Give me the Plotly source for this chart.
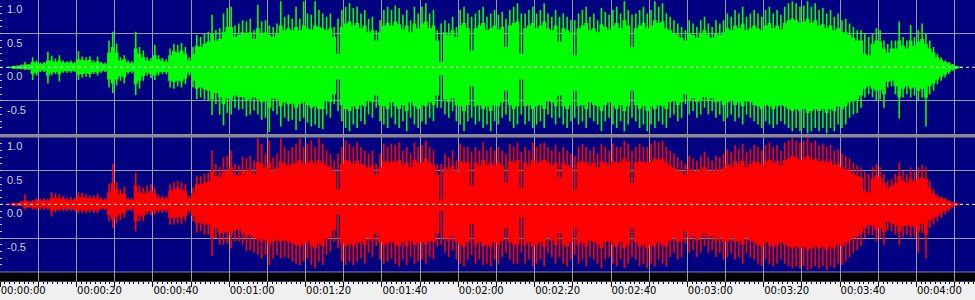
import plotly.graph_objects as go

# ---------------- data (amplitude per 1-second bin) ----------------
seconds = list(range(0, 256))

# peak values (thin spikes)
green_hi = [
    0, 0, 0.01, 0.02, 0.03, 0.04, 0.08, 0.05, 0.15, 0.10,
    0.07, 0.08, 0.23, 0.17, 0.13, 0.18, 0.10, 0.09, 0.10, 0.08,
    0.24, 0.16, 0.15, 0.16, 0.10, 0.16, 0.08, 0.07, 0.40, 0.53,
    0.35, 0.15, 0.18, 0.10, 0.09, 0.53, 0.30, 0.25, 0.15, 0.14,
    0.33, 0.18, 0.14, 0.12, 0.28, 0.35, 0.33, 0.36, 0.30, 0.15,
    0.30, 0.48, 0.45, 0.50, 0.53, 0.78, 0.55, 0.58, 0.80, 0.88,
    0.90, 0.62, 0.65, 0.70, 0.68, 0.72, 0.55, 0.93, 0.68, 0.70,
    0.62, 0.60, 0.65, 0.98, 0.75, 0.78, 0.72, 0.90, 0.72, 0.98,
    0.80, 0.78, 0.98, 0.85, 0.80, 0.75, 0.80, 0.60, 0.72, 0.85,
    0.90, 0.95, 0.88, 0.90, 0.80, 0.85, 0.72, 0.75, 0.55, 0.70,
    0.85, 0.90, 0.85, 0.92, 0.88, 0.78, 0.85, 0.70, 0.90, 0.80,
    0.90, 0.95, 0.80, 0.85, 0.55, 0.65, 0.70, 0.65, 0.75, 0.60,
    0.85, 0.90, 0.80, 0.75, 0.80, 0.85, 0.90, 0.75, 0.80, 0.85,
    0.78, 0.82, 0.72, 0.85, 0.90, 0.95, 0.80, 0.80, 0.85, 0.90,
    0.80, 0.85, 0.95, 0.80, 0.75, 0.85, 0.75, 0.80, 0.75, 0.70,
    0.70, 0.80, 0.85, 0.90, 0.75, 0.80, 0.70, 0.88, 0.82, 0.78,
    0.85, 0.90, 0.80, 0.98, 0.85, 0.78, 0.80, 0.85, 0.90, 0.80,
    0.85, 0.98, 0.90, 0.95, 0.80, 0.75, 0.70, 0.65, 0.60, 0.55,
    0.70, 0.65, 0.60, 0.70, 0.75, 0.65, 0.60, 0.70, 0.65, 0.70,
    0.80, 0.75, 0.85, 0.80, 0.90, 0.75, 0.80, 0.85, 0.80, 0.75,
    0.85, 0.90, 0.80, 0.85, 0.78, 0.90, 0.95, 0.98, 0.95, 0.90,
    0.92, 0.98, 0.90, 0.95, 0.85, 0.88, 0.80, 0.85, 0.75, 0.80,
    0.70, 0.72, 0.65, 0.60, 0.55, 0.55, 0.50, 0.45, 0.50, 0.58,
    0.55, 0.40, 0.35, 0.40, 0.40, 0.68, 0.45, 0.40, 0.63, 0.45,
    0.55, 0.65, 0.50, 0.40, 0.30, 0.20, 0.15, 0.10, 0.08, 0.05,
    0.02, 0.01, 0, 0, 0, 0,
]
green_lo = [
    0, 0, -0.01, -0.02, -0.03, -0.03, -0.04, -0.04, -0.19, -0.12,
    -0.07, -0.07, -0.24, -0.12, -0.10, -0.21, -0.08, -0.08, -0.08, -0.07,
    -0.19, -0.15, -0.14, -0.15, -0.10, -0.12, -0.08, -0.07, -0.30, -0.38,
    -0.27, -0.20, -0.24, -0.10, -0.09, -0.41, -0.32, -0.20, -0.12, -0.16,
    -0.19, -0.12, -0.10, -0.10, -0.30, -0.32, -0.28, -0.30, -0.25, -0.12,
    -0.30, -0.47, -0.45, -0.48, -0.50, -0.71, -0.55, -0.70, -0.86, -0.68,
    -0.70, -0.60, -0.63, -0.62, -0.73, -0.70, -0.64, -0.70, -0.78, -0.75,
    -0.96, -0.65, -0.70, -0.88, -0.75, -0.80, -0.78, -0.93, -0.80, -0.75,
    -0.82, -0.88, -0.85, -0.90, -0.92, -0.70, -0.75, -0.55, -0.65, -0.80,
    -0.90, -0.95, -0.85, -0.90, -0.80, -0.85, -0.70, -0.75, -0.60, -0.80,
    -0.85, -0.90, -0.75, -0.85, -0.90, -0.80, -0.95, -0.75, -0.85, -0.90,
    -0.80, -0.85, -0.75, -0.80, -0.60, -0.60, -0.70, -0.75, -0.65, -0.80,
    -0.85, -0.95, -0.80, -0.75, -0.85, -0.80, -0.90, -0.85, -0.95, -0.80,
    -0.85, -0.75, -0.70, -0.80, -0.90, -0.85, -0.70, -0.85, -0.80, -0.90,
    -0.85, -0.80, -0.90, -0.70, -0.75, -0.85, -0.75, -0.85, -0.90, -0.80,
    -0.75, -0.85, -0.80, -0.90, -0.75, -0.80, -0.85, -0.95, -0.80, -0.75,
    -0.85, -0.90, -0.80, -0.95, -0.85, -0.75, -0.80, -0.90, -0.85, -0.95,
    -0.85, -0.90, -0.80, -0.85, -0.90, -0.75, -0.70, -0.80, -0.75, -0.55,
    -0.70, -0.65, -0.75, -0.70, -0.60, -0.70, -0.65, -0.75, -0.70, -0.80,
    -0.75, -0.70, -0.80, -0.75, -0.85, -0.70, -0.75, -0.80, -0.85, -0.90,
    -0.80, -0.85, -0.90, -0.85, -0.80, -0.85, -0.90, -0.95, -0.90, -0.95,
    -0.90, -0.98, -0.95, -0.90, -0.95, -0.90, -0.98, -0.90, -0.95, -0.85,
    -0.90, -0.85, -0.75, -0.70, -0.68, -0.60, -0.45, -0.40, -0.45, -0.50,
    -0.48, -0.60, -0.30, -0.28, -0.40, -0.76, -0.45, -0.40, -0.45, -0.42,
    -0.50, -0.45, -0.88, -0.40, -0.35, -0.25, -0.20, -0.15, -0.10, -0.05,
    -0.02, -0.01, 0, 0, 0, 0,
]
red_hi = [
    0, 0, 0.01, 0.02, 0.02, 0.05, 0.15, 0.05, 0.06, 0.09,
    0.08, 0.09, 0.08, 0.18, 0.16, 0.15, 0.12, 0.10, 0.11, 0.10,
    0.18, 0.17, 0.15, 0.13, 0.13, 0.16, 0.10, 0.10, 0.30, 0.60,
    0.33, 0.22, 0.26, 0.10, 0.10, 0.47, 0.28, 0.25, 0.28, 0.30,
    0.25, 0.14, 0.13, 0.12, 0.30, 0.33, 0.35, 0.33, 0.30, 0.12,
    0.25, 0.43, 0.42, 0.45, 0.47, 0.80, 0.60, 0.55, 0.70, 0.72,
    0.80, 0.60, 0.58, 0.70, 0.68, 0.72, 0.65, 0.98, 0.90, 0.75,
    0.95, 0.70, 0.75, 0.98, 0.85, 0.80, 0.85, 0.90, 0.98, 0.85,
    0.90, 0.95, 0.85, 0.98, 0.90, 0.80, 0.75, 0.65, 0.75, 0.85,
    0.95, 0.90, 0.85, 0.92, 0.85, 0.80, 0.75, 0.80, 0.60, 0.75,
    0.90, 0.85, 0.90, 0.88, 0.92, 0.80, 0.85, 0.75, 0.92, 0.85,
    0.88, 0.95, 0.85, 0.80, 0.60, 0.60, 0.75, 0.70, 0.80, 0.65,
    0.90, 0.85, 0.85, 0.78, 0.85, 0.80, 0.92, 0.80, 0.85, 0.80,
    0.85, 0.80, 0.75, 0.90, 0.85, 0.92, 0.78, 0.85, 0.80, 0.92,
    0.85, 0.90, 0.92, 0.85, 0.80, 0.88, 0.78, 0.85, 0.80, 0.75,
    0.72, 0.85, 0.90, 0.85, 0.80, 0.85, 0.75, 0.90, 0.85, 0.80,
    0.90, 0.85, 0.85, 0.95, 0.90, 0.80, 0.85, 0.90, 0.85, 0.85,
    0.90, 0.95, 0.92, 0.95, 0.85, 0.80, 0.75, 0.70, 0.65, 0.60,
    0.72, 0.68, 0.65, 0.72, 0.78, 0.70, 0.65, 0.72, 0.70, 0.75,
    0.82, 0.78, 0.88, 0.82, 0.90, 0.78, 0.82, 0.88, 0.85, 0.80,
    0.88, 0.92, 0.85, 0.88, 0.80, 0.92, 0.95, 0.98, 0.95, 0.92,
    0.95, 0.98, 0.92, 0.95, 0.88, 0.90, 0.85, 0.88, 0.80, 0.82,
    0.75, 0.72, 0.68, 0.62, 0.58, 0.55, 0.48, 0.45, 0.55, 0.60,
    0.55, 0.45, 0.35, 0.38, 0.45, 0.62, 0.50, 0.45, 0.55, 0.48,
    0.55, 0.58, 0.55, 0.35, 0.22, 0.15, 0.12, 0.10, 0.06, 0.04,
    0.02, 0.01, 0, 0, 0, 0,
]
red_lo = [
    0, 0, -0.01, -0.02, -0.02, -0.03, -0.08, -0.05, -0.08, -0.08,
    -0.08, -0.08, -0.08, -0.18, -0.12, -0.10, -0.10, -0.10, -0.10, -0.10,
    -0.13, -0.13, -0.13, -0.12, -0.13, -0.13, -0.08, -0.08, -0.25, -0.35,
    -0.28, -0.23, -0.20, -0.10, -0.10, -0.40, -0.25, -0.25, -0.15, -0.16,
    -0.15, -0.13, -0.13, -0.12, -0.30, -0.30, -0.28, -0.30, -0.25, -0.13,
    -0.25, -0.42, -0.40, -0.45, -0.45, -0.77, -0.50, -0.60, -0.60, -0.58,
    -0.65, -0.55, -0.55, -0.60, -0.70, -0.68, -0.72, -0.75, -0.80, -0.75,
    -0.90, -0.80, -0.75, -0.80, -0.78, -0.80, -0.85, -0.88, -0.90, -0.85,
    -0.80, -0.90, -0.95, -0.85, -0.90, -0.75, -0.70, -0.55, -0.65, -0.85,
    -0.90, -0.85, -0.90, -0.85, -0.80, -0.88, -0.72, -0.78, -0.62, -0.82,
    -0.88, -0.85, -0.80, -0.88, -0.92, -0.82, -0.90, -0.78, -0.88, -0.85,
    -0.82, -0.88, -0.78, -0.82, -0.62, -0.60, -0.72, -0.78, -0.68, -0.82,
    -0.88, -0.92, -0.82, -0.75, -0.88, -0.82, -0.90, -0.88, -0.92, -0.82,
    -0.88, -0.78, -0.72, -0.82, -0.88, -0.88, -0.72, -0.88, -0.82, -0.92,
    -0.88, -0.82, -0.92, -0.72, -0.78, -0.88, -0.78, -0.88, -0.92, -0.82,
    -0.75, -0.88, -0.82, -0.92, -0.78, -0.82, -0.88, -0.95, -0.82, -0.78,
    -0.88, -0.92, -0.82, -0.95, -0.88, -0.78, -0.82, -0.92, -0.88, -0.95,
    -0.88, -0.92, -0.82, -0.88, -0.92, -0.78, -0.72, -0.82, -0.78, -0.58,
    -0.72, -0.68, -0.78, -0.72, -0.62, -0.72, -0.68, -0.78, -0.72, -0.82,
    -0.78, -0.72, -0.82, -0.78, -0.88, -0.72, -0.78, -0.82, -0.88, -0.92,
    -0.82, -0.88, -0.92, -0.88, -0.82, -0.88, -0.92, -0.95, -0.92, -0.95,
    -0.92, -0.98, -0.95, -0.92, -0.95, -0.92, -0.98, -0.92, -0.95, -0.88,
    -0.90, -0.85, -0.78, -0.72, -0.68, -0.62, -0.50, -0.45, -0.45, -0.55,
    -0.50, -0.60, -0.38, -0.40, -0.45, -0.60, -0.48, -0.45, -0.48, -0.48,
    -0.72, -0.42, -0.80, -0.35, -0.30, -0.25, -0.20, -0.15, -0.10, -0.05,
    -0.02, -0.01, 0, 0, 0, 0,
]

# dense body of the waveform
green_body_hi = [
    0, 0, 0.01, 0.02, 0.02, 0.03, 0.04, 0.04, 0.08, 0.07,
    0.05, 0.06, 0.10, 0.10, 0.08, 0.10, 0.07, 0.07, 0.07, 0.06,
    0.12, 0.11, 0.10, 0.11, 0.07, 0.09, 0.06, 0.05, 0.22, 0.30,
    0.22, 0.10, 0.12, 0.07, 0.06, 0.28, 0.20, 0.15, 0.10, 0.10,
    0.18, 0.12, 0.10, 0.08, 0.18, 0.24, 0.22, 0.25, 0.20, 0.10,
    0.20, 0.32, 0.30, 0.35, 0.38, 0.50, 0.40, 0.42, 0.52, 0.60,
    0.60, 0.45, 0.48, 0.52, 0.50, 0.52, 0.42, 0.58, 0.50, 0.52,
    0.48, 0.45, 0.50, 0.62, 0.55, 0.58, 0.55, 0.60, 0.55, 0.62,
    0.58, 0.56, 0.62, 0.60, 0.58, 0.55, 0.58, 0.45, 0.20, 0.60,
    0.65, 0.68, 0.62, 0.66, 0.58, 0.62, 0.52, 0.55, 0.40, 0.52,
    0.62, 0.66, 0.62, 0.68, 0.64, 0.56, 0.62, 0.52, 0.65, 0.58,
    0.65, 0.68, 0.58, 0.62, 0.40, 0.08, 0.52, 0.48, 0.55, 0.45,
    0.62, 0.66, 0.58, 0.25, 0.58, 0.62, 0.66, 0.55, 0.58, 0.62,
    0.56, 0.60, 0.30, 0.62, 0.66, 0.68, 0.20, 0.58, 0.62, 0.66,
    0.58, 0.62, 0.68, 0.58, 0.55, 0.62, 0.38, 0.58, 0.55, 0.52,
    0.18, 0.58, 0.62, 0.66, 0.55, 0.58, 0.52, 0.64, 0.60, 0.56,
    0.62, 0.66, 0.58, 0.70, 0.62, 0.30, 0.58, 0.62, 0.66, 0.58,
    0.62, 0.70, 0.66, 0.68, 0.58, 0.55, 0.50, 0.48, 0.44, 0.40,
    0.50, 0.48, 0.44, 0.50, 0.55, 0.48, 0.44, 0.50, 0.48, 0.52,
    0.58, 0.55, 0.62, 0.58, 0.65, 0.55, 0.58, 0.62, 0.58, 0.55,
    0.62, 0.66, 0.58, 0.62, 0.56, 0.66, 0.70, 0.72, 0.70, 0.66,
    0.68, 0.72, 0.66, 0.70, 0.62, 0.64, 0.58, 0.62, 0.55, 0.58,
    0.52, 0.52, 0.48, 0.44, 0.40, 0.40, 0.20, 0.18, 0.35, 0.40,
    0.38, 0.28, 0.22, 0.28, 0.28, 0.40, 0.32, 0.28, 0.40, 0.32,
    0.38, 0.42, 0.35, 0.28, 0.22, 0.15, 0.11, 0.08, 0.06, 0.04,
    0.02, 0.01, 0, 0, 0, 0,
]
green_body_lo = [
    0, 0, -0.01, -0.02, -0.02, -0.02, -0.03, -0.03, -0.10, -0.08,
    -0.05, -0.05, -0.12, -0.08, -0.07, -0.10, -0.06, -0.06, -0.06, -0.05,
    -0.11, -0.10, -0.09, -0.10, -0.07, -0.08, -0.06, -0.05, -0.18, -0.24,
    -0.18, -0.13, -0.15, -0.07, -0.06, -0.25, -0.20, -0.13, -0.08, -0.10,
    -0.12, -0.08, -0.07, -0.07, -0.20, -0.22, -0.20, -0.21, -0.17, -0.08,
    -0.20, -0.32, -0.30, -0.33, -0.35, -0.48, -0.38, -0.45, -0.55, -0.46,
    -0.48, -0.42, -0.44, -0.44, -0.50, -0.48, -0.45, -0.48, -0.52, -0.50,
    -0.60, -0.46, -0.48, -0.58, -0.52, -0.55, -0.54, -0.60, -0.55, -0.52,
    -0.56, -0.60, -0.58, -0.62, -0.62, -0.50, -0.52, -0.40, -0.18, -0.56,
    -0.62, -0.65, -0.58, -0.62, -0.56, -0.58, -0.50, -0.52, -0.42, -0.56,
    -0.58, -0.62, -0.52, -0.58, -0.62, -0.56, -0.65, -0.52, -0.58, -0.62,
    -0.56, -0.58, -0.52, -0.56, -0.42, -0.12, -0.48, -0.52, -0.46, -0.56,
    -0.58, -0.65, -0.56, -0.28, -0.58, -0.56, -0.62, -0.58, -0.65, -0.56,
    -0.58, -0.52, -0.35, -0.56, -0.62, -0.58, -0.18, -0.58, -0.56, -0.62,
    -0.58, -0.56, -0.62, -0.50, -0.52, -0.58, -0.42, -0.58, -0.62, -0.56,
    -0.35, -0.58, -0.56, -0.62, -0.52, -0.56, -0.58, -0.65, -0.56, -0.52,
    -0.58, -0.62, -0.56, -0.65, -0.58, -0.35, -0.56, -0.62, -0.58, -0.65,
    -0.58, -0.62, -0.56, -0.58, -0.62, -0.52, -0.50, -0.56, -0.52, -0.40,
    -0.50, -0.46, -0.52, -0.50, -0.44, -0.50, -0.46, -0.52, -0.50, -0.56,
    -0.52, -0.50, -0.56, -0.52, -0.58, -0.50, -0.52, -0.56, -0.58, -0.62,
    -0.56, -0.58, -0.62, -0.58, -0.56, -0.58, -0.62, -0.65, -0.62, -0.65,
    -0.62, -0.68, -0.65, -0.62, -0.65, -0.62, -0.68, -0.62, -0.65, -0.58,
    -0.62, -0.58, -0.52, -0.50, -0.48, -0.42, -0.32, -0.28, -0.32, -0.35,
    -0.34, -0.40, -0.22, -0.20, -0.28, -0.45, -0.32, -0.28, -0.32, -0.30,
    -0.35, -0.32, -0.45, -0.28, -0.24, -0.18, -0.14, -0.11, -0.07, -0.04,
    -0.02, -0.01, 0, 0, 0, 0,
]
red_body_hi = [
    0, 0, 0.01, 0.02, 0.02, 0.03, 0.06, 0.04, 0.04, 0.06,
    0.05, 0.06, 0.06, 0.10, 0.10, 0.09, 0.08, 0.07, 0.07, 0.07,
    0.11, 0.11, 0.10, 0.09, 0.09, 0.10, 0.07, 0.07, 0.18, 0.32,
    0.22, 0.15, 0.16, 0.07, 0.07, 0.28, 0.18, 0.16, 0.18, 0.20,
    0.16, 0.09, 0.09, 0.08, 0.20, 0.22, 0.24, 0.22, 0.20, 0.08,
    0.17, 0.30, 0.30, 0.32, 0.34, 0.50, 0.42, 0.40, 0.48, 0.50,
    0.55, 0.44, 0.42, 0.50, 0.48, 0.52, 0.46, 0.62, 0.60, 0.54,
    0.62, 0.50, 0.54, 0.64, 0.60, 0.58, 0.60, 0.62, 0.66, 0.60,
    0.62, 0.65, 0.60, 0.66, 0.62, 0.58, 0.55, 0.48, 0.22, 0.60,
    0.66, 0.64, 0.60, 0.65, 0.60, 0.58, 0.54, 0.58, 0.44, 0.55,
    0.64, 0.62, 0.64, 0.62, 0.66, 0.58, 0.62, 0.55, 0.66, 0.62,
    0.62, 0.68, 0.62, 0.58, 0.44, 0.07, 0.55, 0.52, 0.58, 0.48,
    0.64, 0.62, 0.62, 0.28, 0.62, 0.58, 0.66, 0.58, 0.62, 0.58,
    0.62, 0.58, 0.32, 0.64, 0.62, 0.66, 0.24, 0.62, 0.58, 0.66,
    0.62, 0.64, 0.66, 0.62, 0.58, 0.62, 0.40, 0.62, 0.58, 0.55,
    0.22, 0.62, 0.64, 0.62, 0.58, 0.62, 0.55, 0.64, 0.62, 0.58,
    0.64, 0.62, 0.62, 0.68, 0.64, 0.32, 0.62, 0.64, 0.62, 0.62,
    0.64, 0.68, 0.66, 0.68, 0.62, 0.58, 0.54, 0.50, 0.48, 0.44,
    0.52, 0.50, 0.48, 0.52, 0.56, 0.50, 0.48, 0.52, 0.50, 0.54,
    0.60, 0.56, 0.64, 0.60, 0.65, 0.56, 0.60, 0.64, 0.62, 0.58,
    0.64, 0.66, 0.62, 0.64, 0.58, 0.66, 0.68, 0.72, 0.70, 0.66,
    0.68, 0.72, 0.66, 0.68, 0.64, 0.65, 0.62, 0.64, 0.58, 0.60,
    0.55, 0.52, 0.50, 0.45, 0.42, 0.40, 0.20, 0.18, 0.38, 0.42,
    0.40, 0.32, 0.25, 0.27, 0.32, 0.42, 0.35, 0.32, 0.38, 0.34,
    0.38, 0.40, 0.38, 0.25, 0.16, 0.11, 0.09, 0.07, 0.05, 0.03,
    0.02, 0.01, 0, 0, 0, 0,
]
red_body_lo = [
    0, 0, -0.01, -0.02, -0.02, -0.02, -0.05, -0.04, -0.05, -0.05,
    -0.05, -0.05, -0.05, -0.10, -0.08, -0.07, -0.07, -0.07, -0.07, -0.07,
    -0.09, -0.09, -0.09, -0.08, -0.09, -0.09, -0.06, -0.06, -0.16, -0.22,
    -0.18, -0.15, -0.13, -0.07, -0.07, -0.25, -0.17, -0.17, -0.10, -0.11,
    -0.10, -0.09, -0.09, -0.08, -0.20, -0.20, -0.19, -0.20, -0.17, -0.09,
    -0.17, -0.28, -0.27, -0.30, -0.30, -0.50, -0.35, -0.42, -0.42, -0.40,
    -0.45, -0.38, -0.38, -0.42, -0.48, -0.46, -0.50, -0.52, -0.55, -0.52,
    -0.60, -0.55, -0.52, -0.55, -0.54, -0.55, -0.58, -0.60, -0.62, -0.58,
    -0.55, -0.62, -0.65, -0.58, -0.62, -0.52, -0.48, -0.38, -0.15, -0.58,
    -0.62, -0.58, -0.62, -0.58, -0.55, -0.60, -0.50, -0.54, -0.43, -0.56,
    -0.60, -0.58, -0.55, -0.60, -0.63, -0.56, -0.62, -0.54, -0.60, -0.58,
    -0.56, -0.60, -0.54, -0.56, -0.43, -0.10, -0.50, -0.54, -0.47, -0.56,
    -0.60, -0.63, -0.56, -0.29, -0.60, -0.56, -0.62, -0.60, -0.63, -0.56,
    -0.60, -0.54, -0.36, -0.56, -0.60, -0.60, -0.19, -0.60, -0.56, -0.63,
    -0.60, -0.56, -0.63, -0.50, -0.54, -0.60, -0.43, -0.60, -0.63, -0.56,
    -0.36, -0.60, -0.56, -0.63, -0.54, -0.56, -0.60, -0.65, -0.56, -0.54,
    -0.60, -0.63, -0.56, -0.65, -0.60, -0.36, -0.56, -0.63, -0.60, -0.65,
    -0.60, -0.63, -0.56, -0.60, -0.63, -0.54, -0.50, -0.56, -0.54, -0.40,
    -0.50, -0.47, -0.54, -0.50, -0.43, -0.50, -0.47, -0.54, -0.50, -0.56,
    -0.54, -0.50, -0.56, -0.54, -0.60, -0.50, -0.54, -0.56, -0.60, -0.63,
    -0.56, -0.60, -0.63, -0.60, -0.56, -0.60, -0.63, -0.65, -0.63, -0.65,
    -0.63, -0.68, -0.65, -0.63, -0.65, -0.63, -0.68, -0.63, -0.65, -0.60,
    -0.62, -0.58, -0.54, -0.50, -0.47, -0.43, -0.35, -0.31, -0.31, -0.38,
    -0.35, -0.41, -0.26, -0.28, -0.31, -0.41, -0.33, -0.31, -0.33, -0.33,
    -0.40, -0.29, -0.45, -0.24, -0.21, -0.17, -0.14, -0.10, -0.07, -0.04,
    -0.02, -0.01, 0, 0, 0, 0,
]

grid_seconds = list(range(0, 260, 10))
tick_labels = ["00:00:00", "", "00:00:20", "", "00:00:40", "", "00:01:00", "",
               "00:01:20", "", "00:01:40", "", "00:02:00", "", "00:02:20", "",
               "00:02:40", "", "00:03:00", "", "00:03:20", "", "00:03:40", "",
               "00:04:00", ""]
amp_label_values = [1.0, 0.5, 0.0, -0.5]
amp_label_text = ["1.0", "0.5", "0.0", "-0.5"]

# ---------------- styling ----------------
NAVY = "#000080"
GRID = "#9c9c9c"
GREEN = "#00ff00"
RED = "#ff0000"
SEP = "#8a8a8a"
RULER_BG = "#f0f0f0"
X_RANGE = [-0.05, 255.35]

fig = go.Figure()

edges = seconds + [seconds[-1] + 1]


def stepped(vals):
    return list(vals) + [vals[-1]]


channels = [
    (green_hi, green_lo, green_body_hi, green_body_lo, GREEN, "y"),
    (red_hi, red_lo, red_body_hi, red_body_lo, RED, "y2"),
]
for hi, lo, bhi, blo, color, yax in channels:
    # dense body
    fig.add_trace(go.Scatter(x=edges, y=stepped(blo), yaxis=yax, mode="lines",
                             line=dict(width=0, shape="hv", color=color),
                             hoverinfo="skip", showlegend=False))
    fig.add_trace(go.Scatter(x=edges, y=stepped(bhi), yaxis=yax, mode="lines",
                             line=dict(width=0, shape="hv", color=color),
                             fill="tonexty", fillcolor=color,
                             hoverinfo="skip", showlegend=False))
    # thin peak spikes, one per bin
    sx, sy = [], []
    for s, a, b in zip(seconds, lo, hi):
        sx += [s + 0.5, s + 0.5, None]
        sy += [a, b, None]
    fig.add_trace(go.Scatter(x=sx, y=sy, yaxis=yax, mode="lines",
                             line=dict(width=1.6, color=color),
                             hoverinfo="skip", showlegend=False))

# empty trace so the black time-bar strip exists as a subplot
fig.add_trace(go.Scatter(x=[None], y=[None], yaxis="y3", showlegend=False, hoverinfo="skip"))

amp_axis = dict(range=[-1, 1], tickmode="array", tickvals=[-1.0, -0.5, 0.5, 1.0],
                showticklabels=False, showgrid=True, gridcolor=GRID, gridwidth=1,
                zeroline=False, showline=False, ticks="inside", ticklen=2,
                tickcolor="#d0d0d0", fixedrange=True,
                minor=dict(dtick=0.1, tick0=0, ticks="inside", ticklen=2,
                           tickcolor="#d0d0d0", showgrid=False))

fig.update_layout(
    width=975, height=300,
    margin=dict(l=0, r=0, t=0, b=0),
    paper_bgcolor=RULER_BG, plot_bgcolor=NAVY,
    showlegend=False,
    xaxis=dict(range=X_RANGE, anchor="y3", tickmode="array",
               tickvals=grid_seconds, ticktext=tick_labels,
               showgrid=True, gridcolor=GRID, gridwidth=1,
               zeroline=False, showline=False,
               ticks="outside", ticklen=5, tickcolor="black", tickwidth=1,
               ticklabelposition="outside right",
               tickfont=dict(family="DejaVu Sans", size=10, color="black"),
               minor=dict(dtick=1.25, tick0=0, ticks="outside", ticklen=2,
                          tickcolor="black", showgrid=False),
               fixedrange=True),
    yaxis=dict(domain=[0.5513, 1.0], anchor="x", **amp_axis),
    yaxis2=dict(domain=[0.0943, 0.5433], anchor="x", **amp_axis),
    yaxis3=dict(domain=[0.0617, 0.0917], anchor="x", range=[0, 1],
                showgrid=False, showticklabels=False, zeroline=False,
                ticks="", fixedrange=True),
)

shapes = []
shapes.append(dict(type="rect", xref="x domain", yref="y3 domain", x0=0, x1=1, y0=0, y1=1,
                   fillcolor="black", line=dict(width=0), layer="below"))
shapes.append(dict(type="rect", xref="paper", yref="paper", x0=0, x1=1,
                   y0=1 - 137.5 / 300, y1=1 - 134.0 / 300,
                   fillcolor=SEP, line=dict(width=0), layer="above"))
for yr in ["y", "y2"]:
    shapes.append(dict(type="line", xref="x domain", yref=yr, x0=0, x1=1, y0=0, y1=0,
                       line=dict(color="#f4f4c8", width=1, dash="3px,3px"), layer="above"))
fig.update_layout(shapes=shapes)

annotations = []
for yr in ["y", "y2"]:
    for v, txt in zip(amp_label_values, amp_label_text):
        annotations.append(dict(x=5 / 975, xref="paper", xanchor="left",
                                y=v, yref=yr, yanchor="top", yshift=-1,
                                text=txt, showarrow=False,
                                font=dict(family="Liberation Sans", size=11, color="#d0d0d0")))
fig.update_layout(annotations=annotations)

fig.write_html("out.html")
